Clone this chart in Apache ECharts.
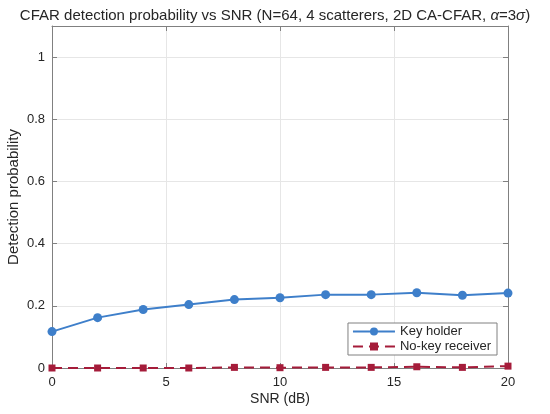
<!DOCTYPE html>
<html>
<head>
<meta charset="utf-8">
<script src="https://cdn.jsdelivr.net/npm/echarts@6/dist/echarts.min.js"></script>
<style>
  html, body { margin: 0; padding: 0; background: #fff; }
  #chart { width: 550px; height: 414px; }
</style>
</head>
<body>
<div id="chart"></div>
<script>
// SNR values (dB)
var snr = [0, 2, 4, 6, 8, 10, 12, 14, 16, 18, 20];
// detection probability
var keyHolder = [0.117, 0.162, 0.188, 0.204, 0.220, 0.226, 0.236, 0.236, 0.242, 0.234, 0.241];
var noKey = [0.000, 0.000, 0.000, 0.000, 0.002, 0.001, 0.002, 0.002, 0.004, 0.002, 0.006];

var font = 'Liberation Sans, Arial, sans-serif';
var axisColor = '#808080';

function pairs(xs, ys) {
    return xs.map(function (x, i) { return [x, ys[i]]; });
}

var chart = echarts.init(document.getElementById('chart'));

var option = {
    animation: false,
    textStyle: { fontFamily: font },
    title: {
        text: 'CFAR detection probability vs SNR (N=64, 4 scatterers, 2D CA-CFAR, {i|α}=3{i|σ})',
        left: 'center',
        top: 3,
        textStyle: {
            fontSize: 15, fontWeight: 'normal', color: '#262626', fontFamily: font,
            rich: { i: { fontStyle: 'italic', fontSize: 15, color: '#262626', fontFamily: font } }
        }
    },
    grid: { left: 52, right: 42, top: 26, bottom: 46, containLabel: false, outerBoundsMode: 'none' },
    legend: {
        right: 53,
        top: 323,
        orient: 'vertical',
        backgroundColor: '#fff',
        borderColor: '#808080',
        borderWidth: 1,
        borderRadius: 0,
        padding: [2, 6, 2, 4],
        itemGap: 2,
        itemWidth: 42,
        itemHeight: 10,
        textStyle: { fontSize: 13, color: '#262626', fontFamily: font },
        data: ['Key holder', 'No-key receiver']
    },
    xAxis: [{
        type: 'value',
        min: 0, max: 20, interval: 5,
        name: 'SNR (dB)',
        nameLocation: 'middle',
        nameGap: 24,
        nameMoveOverlap: false,
        nameTextStyle: { fontSize: 14, color: '#262626' },
        axisLine: { onZero: false, lineStyle: { color: axisColor } },
        axisTick: { inside: true, length: 5, lineStyle: { color: axisColor } },
        axisLabel: { fontSize: 13, color: '#262626', margin: 8 },
        splitLine: { show: true, lineStyle: { color: '#e6e6e6' } }
    }, {
        type: 'value',
        position: 'top',
        min: 0, max: 20, interval: 5,
        axisLine: { onZero: false, lineStyle: { color: axisColor } },
        axisTick: { inside: true, length: 5, lineStyle: { color: axisColor } },
        axisLabel: { show: false },
        splitLine: { show: false }
    }],
    yAxis: [{
        type: 'value',
        min: 0, max: 1.1, interval: 0.2,
        name: 'Detection probability',
        nameLocation: 'middle',
        nameGap: 31,
        nameMoveOverlap: false,
        nameTextStyle: { fontSize: 15, color: '#262626' },
        axisLine: { show: true, onZero: false, lineStyle: { color: axisColor } },
        axisTick: { show: true, inside: true, length: 5, lineStyle: { color: axisColor } },
        axisLabel: {
            fontSize: 13, color: '#262626', margin: 7,
            formatter: function (v) { return v > 1.001 ? '' : String(Math.round(v * 10) / 10); }
        },
        splitLine: { show: true, lineStyle: { color: '#e6e6e6' } }
    }, {
        type: 'value',
        position: 'right',
        min: 0, max: 1.1, interval: 0.2,
        axisLine: { show: true, onZero: false, lineStyle: { color: axisColor } },
        axisTick: { show: true, inside: true, length: 5, lineStyle: { color: axisColor } },
        axisLabel: { show: false },
        splitLine: { show: false }
    }],
    series: [{
        name: 'Key holder',
        type: 'line',
        data: pairs(snr, keyHolder),
        symbol: 'circle',
        symbolSize: 9,
        z: 3,
        lineStyle: { color: '#3E7FCA', width: 2 },
        itemStyle: { color: '#3E7FCA' }
    }, {
        name: 'No-key receiver',
        type: 'line',
        data: pairs(snr, noKey),
        symbol: 'rect',
        symbolSize: 7,
        z: 4,
        lineStyle: { color: '#A51C3A', width: 2, type: [10, 6] },
        itemStyle: { color: '#A51C3A' }
    }]
};

chart.setOption(option);
</script>
</body>
</html>
